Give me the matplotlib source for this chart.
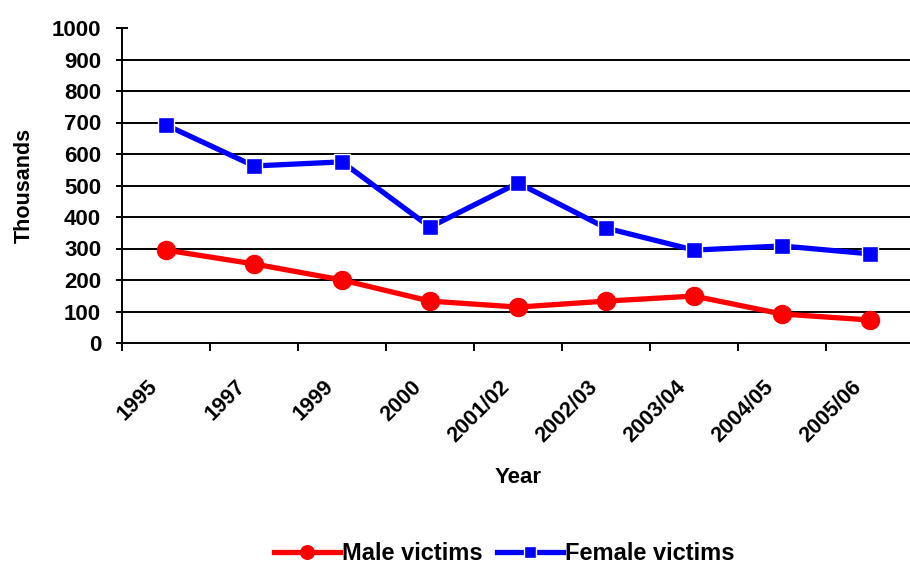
import matplotlib.pyplot as plt
import numpy as np

plt.rcParams['font.family'] = ['Liberation Sans', 'DejaVu Sans']
plt.rcParams['font.weight'] = 'bold'
plt.rcParams['axes.labelweight'] = 'bold'

# DATA
years = ["1995", "1997", "1999", "2000", "2001/02", "2002/03",
         "2003/04", "2004/05", "2005/06"]
male = [295, 251, 200, 133, 114, 133, 149, 92, 73]
female = [692, 562, 575, 368, 508, 365, 295, 308, 283]

x = np.arange(len(years))

fig = plt.figure(figsize=(9.1, 5.63), dpi=100)
ax = fig.add_axes([122 / 910, 1 - 343 / 563, 792 / 910, 315 / 563])

# GRID
for v in range(100, 1000, 100):
    ax.axhline(v, color="black", lw=1.4, zorder=1)

ax.plot(x, male, color="#ff0000", lw=3.8, marker="o", ms=13,
        mec="#ff0000", label="Male victims", zorder=3)
ax.plot(x, female, color="#0000ff", lw=3.8, marker="s", ms=12,
        mec="white", mew=1.0, label="Female victims", zorder=3)

ax.set_xlim(-0.5, len(years) - 0.5)
ax.set_ylim(0, 1000)
ax.set_yticks(range(0, 1001, 100))

# labels sit a little left of the category centre in the original
ax.set_xticks(x - 0.22)
ax.set_xticklabels(years, rotation=45, ha="right", rotation_mode="anchor",
                   fontsize=15.5)
ax.set_xticks(np.arange(-0.5, len(years)), minor=True)
ax.tick_params(axis="x", which="major", length=0, pad=24)
ax.tick_params(axis="x", which="minor", length=6, width=1.4, direction="out")
ax.tick_params(axis="y", length=8, width=1.4, direction="inout",
               labelsize=16, pad=11)

for s in ["top", "right"]:
    ax.spines[s].set_visible(False)
for s in ["left", "bottom"]:
    ax.spines[s].set_linewidth(1.4)

ax.set_ylabel("Thousands", fontsize=15.5, labelpad=12)
ax.set_xlabel("Year", fontsize=16, labelpad=15)

fig.legend(loc="lower center", bbox_to_anchor=(0.554, -0.041), ncol=2,
           frameon=False, fontsize=17, handlelength=2.8, columnspacing=0.6,
           handletextpad=0.1, markerscale=0.75)

fig.savefig("out.png", dpi=100)
